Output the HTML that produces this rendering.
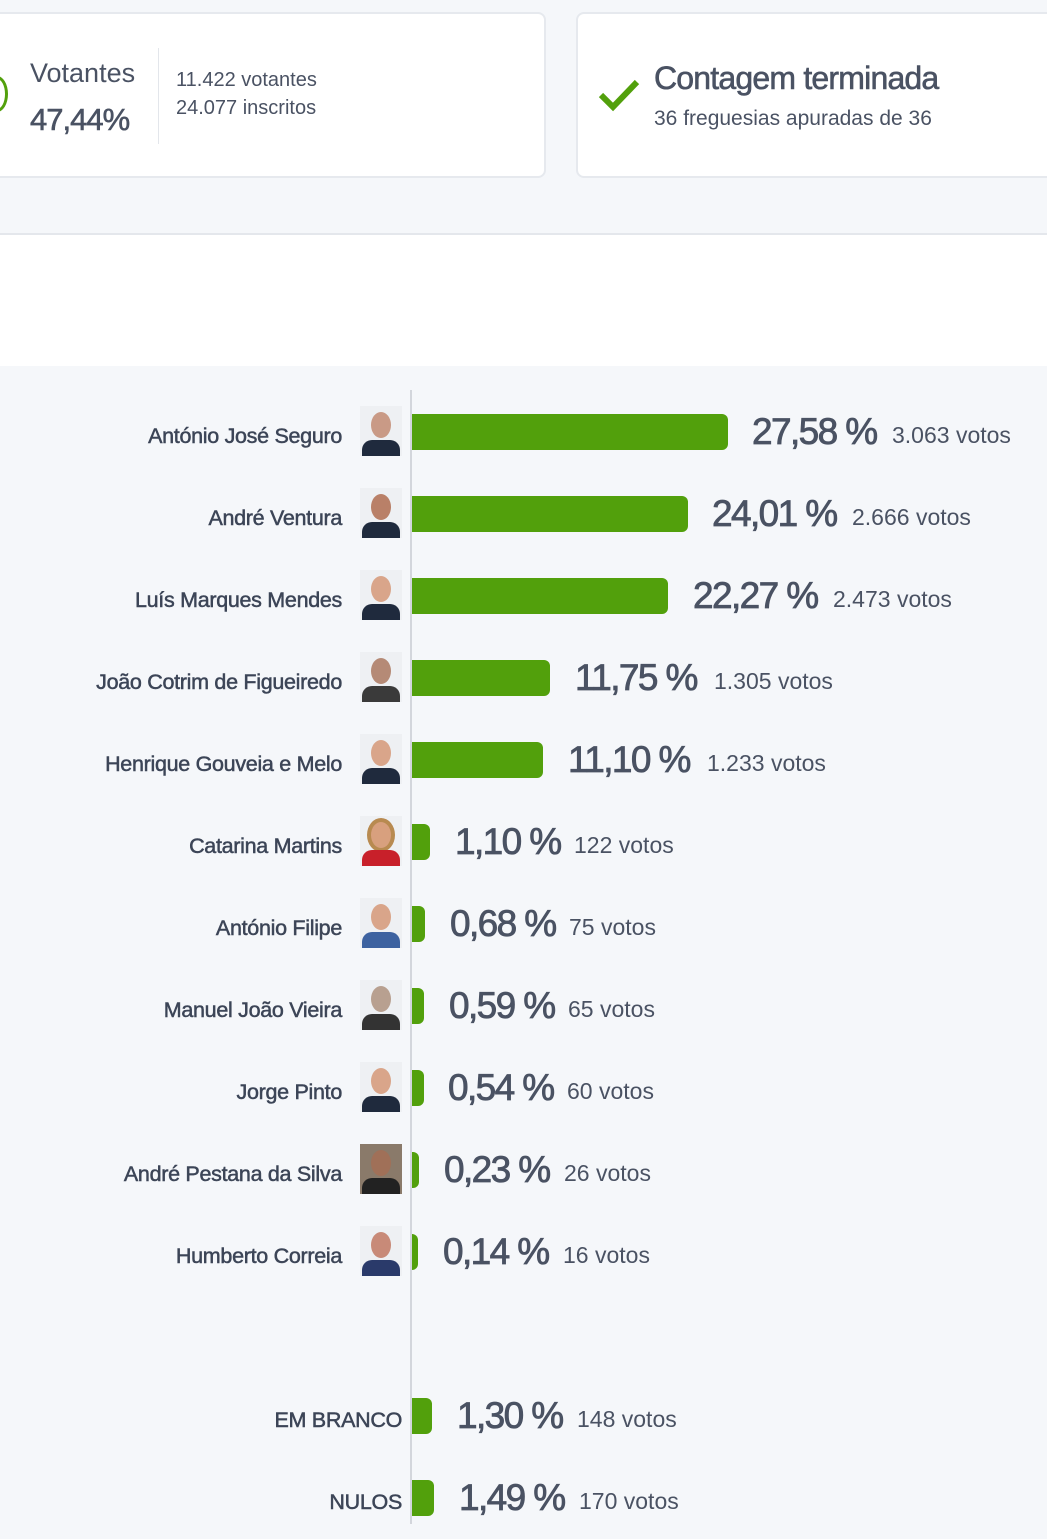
<!DOCTYPE html>
<html><head><meta charset="utf-8"><style>
*{margin:0;padding:0;box-sizing:border-box}
body{width:1047px;height:1524px;background:#f5f7fa;font-family:"Liberation Sans",sans-serif;position:relative;overflow:hidden;color:#4a5263}
.card{position:absolute;top:12px;height:166px;background:#fff;border:2px solid #e6e9ee;border-radius:8px}
.white{position:absolute;left:0;top:233px;width:1047px;height:133px;background:#fff;border-top:2px solid #e4e7ec}
.axis{position:absolute;left:410px;top:390px;width:2px;height:1134px;background:#d3d6dc}
.row{position:absolute;left:0;width:1047px;height:82px}
.name{position:absolute;right:705px;top:33px;font-size:21.5px;color:#3c4557;white-space:nowrap;letter-spacing:-0.3px;-webkit-text-stroke:0.5px #3c4557}
.ph{position:absolute;left:360px;top:15px;width:42px;height:50px;background:#eef0f3;overflow:hidden}
.ph .f{position:absolute;left:11px;top:6px;width:20px;height:26px;border-radius:50%;background:#d9a58a}
.ph .b{position:absolute;left:2px;top:34px;width:38px;height:20px;border-radius:10px 10px 0 0;background:#1f2a3d}
.bar{position:absolute;left:412px;top:23px;height:36px;background:#52a00c;border-radius:0 6px 6px 0}
.pct{position:absolute;top:20px;font-size:37px;color:#4a5263;white-space:nowrap;letter-spacing:-1.6px;-webkit-text-stroke:0.8px #4a5263}
.vt{position:absolute;top:31px;font-size:23px;color:#4a5263;white-space:nowrap}
</style></head><body>
<div class="card" style="left:-10px;width:556px">
  <div style="position:absolute;left:-6px;top:62px;width:22px;height:36px;border:3px solid #52a00c;border-radius:50%"></div>
  <div style="position:absolute;left:38px;top:44px;font-size:27px;color:#4a5263">Votantes</div>
  <div style="position:absolute;left:38px;top:88px;font-size:31px;color:#4a5263;letter-spacing:-1px;-webkit-text-stroke:0.6px #4a5263">47,44%</div>
  <div style="position:absolute;left:166px;top:34px;width:1px;height:96px;background:#e3e6eb"></div>
  <div style="position:absolute;left:184px;top:52px;font-size:20px;color:#4a5263;line-height:28px">11.422 votantes<br>24.077 inscritos</div>
</div>
<div class="card" style="left:576px;width:490px">
  <svg style="position:absolute;left:20px;top:64px" width="42" height="34" viewBox="0 0 42 34"><path d="M3 17 L15 29 L39 4" fill="none" stroke="#52a00c" stroke-width="6"/></svg>
  <div style="position:absolute;left:76px;top:46px;font-size:32px;color:#4a5263;letter-spacing:-0.8px;-webkit-text-stroke:0.6px #4a5263">Contagem terminada</div>
  <div style="position:absolute;left:76px;top:93px;font-size:21px;color:#4a5263">36 freguesias apuradas de 36</div>
</div>
<div class="white"></div>
<div class="axis"></div>

<div class="row" style="top:391px"><div class="name">António José Seguro</div><div class="ph"><div class="f" style="background:#c99a86"></div><div class="b"></div></div><div class="bar" style="width:316px"></div><div class="pct" style="left:752px">27,58 %</div><div class="vt" style="left:892px">3.063 votos</div></div>
<div class="row" style="top:473px"><div class="name">André Ventura</div><div class="ph"><div class="f" style="background:#b98068"></div><div class="b"></div></div><div class="bar" style="width:276px"></div><div class="pct" style="left:712px">24,01 %</div><div class="vt" style="left:852px">2.666 votos</div></div>
<div class="row" style="top:555px"><div class="name">Luís Marques Mendes</div><div class="ph"><div class="f"></div><div class="b"></div></div><div class="bar" style="width:256px"></div><div class="pct" style="left:693px">22,27 %</div><div class="vt" style="left:833px">2.473 votos</div></div>
<div class="row" style="top:637px"><div class="name">João Cotrim de Figueiredo</div><div class="ph"><div class="f" style="background:#b58a76"></div><div class="b" style="background:#3a3a3a"></div></div><div class="bar" style="width:138px"></div><div class="pct" style="left:575px">11,75 %</div><div class="vt" style="left:714px">1.305 votos</div></div>
<div class="row" style="top:719px"><div class="name">Henrique Gouveia e Melo</div><div class="ph"><div class="f"></div><div class="b"></div></div><div class="bar" style="width:131px"></div><div class="pct" style="left:568px">11,10 %</div><div class="vt" style="left:707px">1.233 votos</div></div>
<div class="row" style="top:801px"><div class="name">Catarina Martins</div><div class="ph"><div class="f" style="background:#d8a07e;box-shadow:0 0 0 4px #b88a50"></div><div class="b" style="background:#c8202a"></div></div><div class="bar" style="width:18px"></div><div class="pct" style="left:455px">1,10 %</div><div class="vt" style="left:574px">122 votos</div></div>
<div class="row" style="top:883px"><div class="name">António Filipe</div><div class="ph"><div class="f"></div><div class="b" style="background:#3d62a0"></div></div><div class="bar" style="width:13px"></div><div class="pct" style="left:450px">0,68 %</div><div class="vt" style="left:569px">75 votos</div></div>
<div class="row" style="top:965px"><div class="name">Manuel João Vieira</div><div class="ph"><div class="f" style="background:#b8a090"></div><div class="b" style="background:#333"></div></div><div class="bar" style="width:12px"></div><div class="pct" style="left:449px">0,59 %</div><div class="vt" style="left:568px">65 votos</div></div>
<div class="row" style="top:1047px"><div class="name">Jorge Pinto</div><div class="ph"><div class="f"></div><div class="b"></div></div><div class="bar" style="width:12px"></div><div class="pct" style="left:448px">0,54 %</div><div class="vt" style="left:567px">60 votos</div></div>
<div class="row" style="top:1129px"><div class="name">André Pestana da Silva</div><div class="ph" style="background:#8a7a6a"><div class="f" style="background:#a07058"></div><div class="b" style="background:#222"></div></div><div class="bar" style="width:7px"></div><div class="pct" style="left:444px">0,23 %</div><div class="vt" style="left:564px">26 votos</div></div>
<div class="row" style="top:1211px"><div class="name">Humberto Correia</div><div class="ph"><div class="f" style="background:#c88a78"></div><div class="b" style="background:#2a3a6a"></div></div><div class="bar" style="width:6px"></div><div class="pct" style="left:443px">0,14 %</div><div class="vt" style="left:563px">16 votos</div></div>

<div class="row" style="top:1375px"><div class="name" style="right:645px">EM BRANCO</div><div class="bar" style="width:20px"></div><div class="pct" style="left:457px">1,30 %</div><div class="vt" style="left:577px">148 votos</div></div>
<div class="row" style="top:1457px"><div class="name" style="right:645px">NULOS</div><div class="bar" style="width:22px"></div><div class="pct" style="left:459px">1,49 %</div><div class="vt" style="left:579px">170 votos</div></div>
</body></html>
